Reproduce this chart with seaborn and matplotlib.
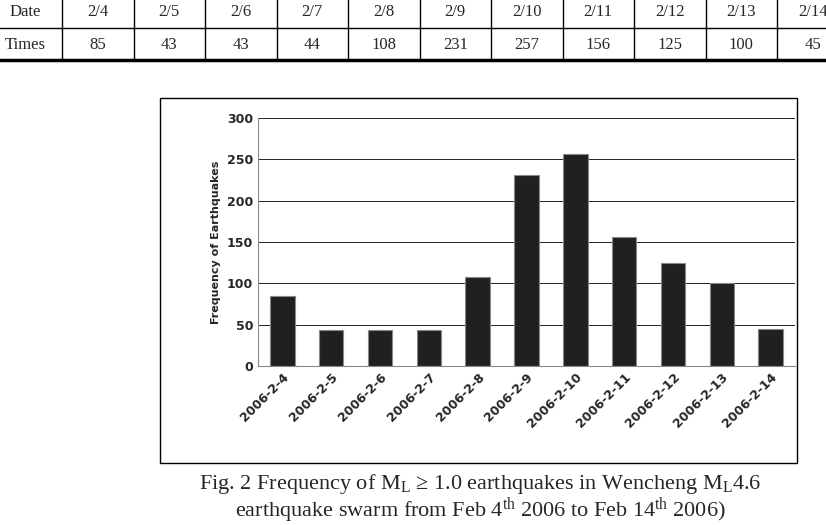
import matplotlib
matplotlib.use("Agg")
import matplotlib.pyplot as plt
import seaborn as sns
import pandas as pd
from matplotlib.lines import Line2D
from matplotlib.patches import Rectangle

dates = ["2/4", "2/5", "2/6", "2/7", "2/8", "2/9", "2/10", "2/11", "2/12", "2/13", "2/14"]
times = [85, 43, 43, 44, 108, 231, 257, 156, 125, 100, 45]
bar_labels = ["2006-2-4", "2006-2-5", "2006-2-6", "2006-2-7", "2006-2-8", "2006-2-9",
              "2006-2-10", "2006-2-11", "2006-2-12", "2006-2-13", "2006-2-14"]

sns.set_style("white")
serif = "Liberation Serif"
plt.rcParams["mathtext.fontset"] = "custom"
plt.rcParams["mathtext.rm"] = serif
plt.rcParams["mathtext.it"] = serif + ":italic"

W, H = 826, 525
fig = plt.figure(figsize=(W / 100, H / 100), dpi=100)

def fx(x):
    return x / W

def fy(y):
    return 1 - y / H

# table at the top
col_edges = [62 + 71.5 * i for i in range(12)]
for y, lw in [(28, 1.0), (60, 2.5)]:
    fig.add_artist(Line2D([0, 1], [fy(y), fy(y)], color="black", lw=lw, transform=fig.transFigure))
for x in col_edges:
    fig.add_artist(Line2D([fx(x), fx(x)], [fy(0), fy(60)], color="black", lw=1.0, transform=fig.transFigure))
fig.text(fx(25), fy(12), "Date", ha="center", va="center", family=serif, fontsize=12)
fig.text(fx(25), fy(45), "Times", ha="center", va="center", family=serif, fontsize=12)
for i, (d, t) in enumerate(zip(dates, times)):
    cx = col_edges[i] + 35.75
    fig.text(fx(cx), fy(12), d, ha="center", va="center", family=serif, fontsize=12)
    fig.text(fx(cx), fy(45), str(t), ha="center", va="center", family=serif, fontsize=12)

# chart frame
fig.add_artist(Rectangle((fx(160), fy(463)), fx(797 - 160), fy(98) - fy(463), fill=False,
                         edgecolor="black", lw=1.0, transform=fig.transFigure))

ax = fig.add_axes([fx(258), fy(366), fx(795 - 258), fy(118) - fy(366)])
df = pd.DataFrame({"date": bar_labels, "count": times})
sns.barplot(data=df, x="date", y="count", color="#202020", width=0.5, edgecolor="#888888",
            linewidth=0.8, ax=ax)
ax.set_ylim(0, 300)
ax.set_yticks(range(0, 301, 50))
ax.yaxis.grid(True, color="black", lw=0.6)
ax.set_axisbelow(True)
for s in ["top", "right"]:
    ax.spines[s].set_visible(False)
ax.spines["left"].set_color("#888888")
ax.spines["bottom"].set_color("#888888")
ax.set_xlabel("")
ax.set_ylabel("Frequency of Earthquakes", fontsize=8, fontweight="bold")
ax.tick_params(axis="y", labelsize=9, length=0)
ax.tick_params(axis="x", labelsize=9, rotation=45, length=0)
for lab in ax.get_xticklabels():
    lab.set_ha("right")
    lab.set_rotation_mode("anchor")
for lab in ax.get_yticklabels() + ax.get_xticklabels():
    lab.set_fontweight("bold")

# caption
fig.text(fx(480), fy(484), r"Fig. 2 Frequency of M$_\mathrm{L}$ ≥ 1.0 earthquakes in Wencheng M$_\mathrm{L}$4.6",
         ha="center", va="center", family=serif, fontsize=16)
fig.text(fx(480), fy(511), r"earthquake swarm from Feb 4$^\mathrm{th}$ 2006 to Feb 14$^\mathrm{th}$ 2006)",
         ha="center", va="center", family=serif, fontsize=16)

fig.savefig("out.png", dpi=100)
